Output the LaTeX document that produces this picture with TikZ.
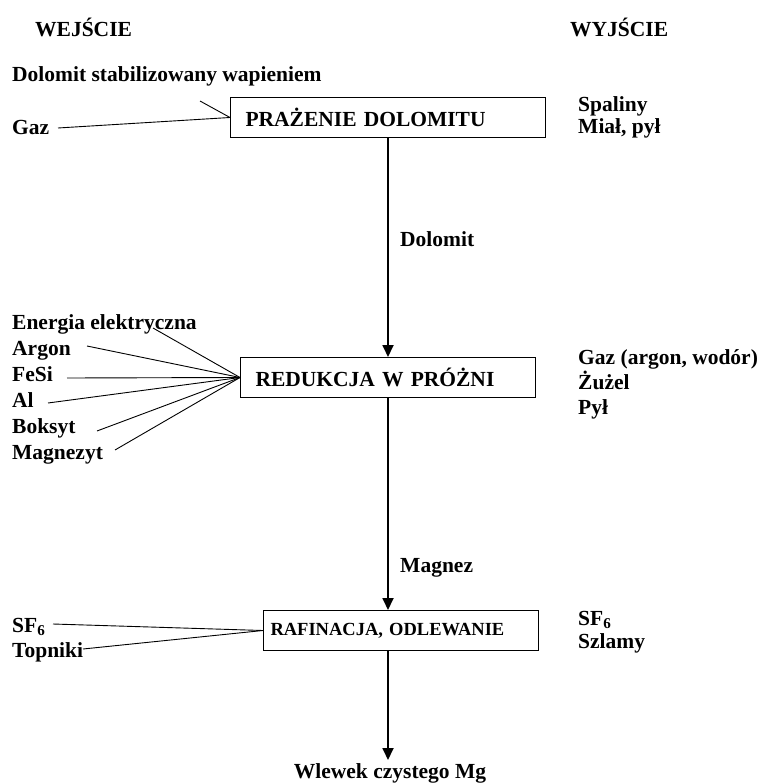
\documentclass[tikz,border=0pt]{standalone}
\usepackage{fontspec}
\setmainfont{Liberation Serif}
\usetikzlibrary{arrows.meta,positioning}

\tikzset{
  etykieta/.style={font=\fontsize{21.5}{25}\selectfont\bfseries, inner sep=0pt, anchor=base west},
  proces/.style={draw, line width=1pt, font=\fontsize{21.5}{25}\selectfont\bfseries,
                 inner ysep=0pt, minimum height=40pt, align=left, anchor=north west},
  wejscie/.style={line width=0.9pt},
  strzalka/.style={line width=1.8pt, -{Triangle[length=12pt,width=11pt]}}
}

\begin{document}
\begin{tikzpicture}[x=1pt,y=-1pt]
\useasboundingbox (0,0) rectangle (764,783);

% naglowki
\node[etykieta] (hwe) at (35,37) {WEJŚCIE};
\node[etykieta] (hwy) at (570,37) {WYJŚCIE};

% etap 1
\node[proces, inner xsep=15pt, text width=285pt] (box1) at (230,97) {PRAŻENIE DOLOMITU};
\node[etykieta] (dolst) at (12,82) {Dolomit stabilizowany wapieniem};
\node[etykieta] (gaz1) at (12,135) {Gaz};
\node[etykieta] (spal) at (578,112) {Spaliny};
\node[etykieta] (mial) at (578,134) {Miał, pył};
\coordinate (cdol) at (200,101);
\coordinate (cgaz) at (58,128);
\draw[wejscie] (cdol) -- (box1.west);
\draw[wejscie] (cgaz) -- (box1.west);

% etap 2
\node[proces, inner xsep=15pt, text width=265pt] (box2) at (240,357) {REDUKCJA W PRÓŻNI};
\node[etykieta] (dolom) at (400,247) {Dolomit};
\node[etykieta] (ener) at (12,329) {Energia elektryczna};
\node[etykieta] (argo) at (12,355) {Argon};
\node[etykieta] (fesi) at (12,381) {FeSi};
\node[etykieta] (alum) at (12,407) {Al};
\node[etykieta] (boks) at (12,433) {Boksyt};
\node[etykieta] (magt) at (12,459) {Magnezyt};
\node[etykieta] (gaz2) at (578,364) {Gaz (argon, wodór)};
\node[etykieta] (zuze) at (578,389) {Żużel};
\node[etykieta] (pyl) at (578,414) {Pył};
\coordinate (cener) at (153,328);
\coordinate (cargo) at (87,346);
\coordinate (cfesi) at (67,378);
\coordinate (calum) at (48,403);
\coordinate (cboks) at (97,431);
\coordinate (cmagt) at (115,450);
\foreach \c in {cener,cargo,cfesi,calum,cboks,cmagt}
  \draw[wejscie] (\c) -- (box2.west);
\draw[strzalka] (box1.south) -- (box2.north);

% etap 3
\node[proces, inner xsep=7pt, text width=261pt, font=\fontsize{18.5}{22}\selectfont\bfseries] (box3) at (263,610) {RAFINACJA, ODLEWANIE};
\node[etykieta] (magn) at (400,572) {Magnez};
\node[etykieta] (sf6l) at (12,632) {SF$_\mathbf{6}$};
\node[etykieta] (topn) at (12,657) {Topniki};
\node[etykieta] (sf6p) at (578,625) {SF$_\mathbf{6}$};
\node[etykieta] (szla) at (578,648) {Szlamy};
\coordinate (csf6) at (53,624);
\coordinate (ctop) at (83,649);
\draw[wejscie] (csf6) -- (box3.west);
\draw[wejscie] (ctop) -- (box3.west);
\draw[strzalka] (box2.south) -- (box2.south |- box3.north);

% produkt
\coordinate (kon) at (388,760);
\draw[strzalka] (box3.south -| box2.south) -- (kon);
\node[etykieta, anchor=base] (wlew) at (390,778) {Wlewek czystego Mg};

\end{tikzpicture}
\end{document}
